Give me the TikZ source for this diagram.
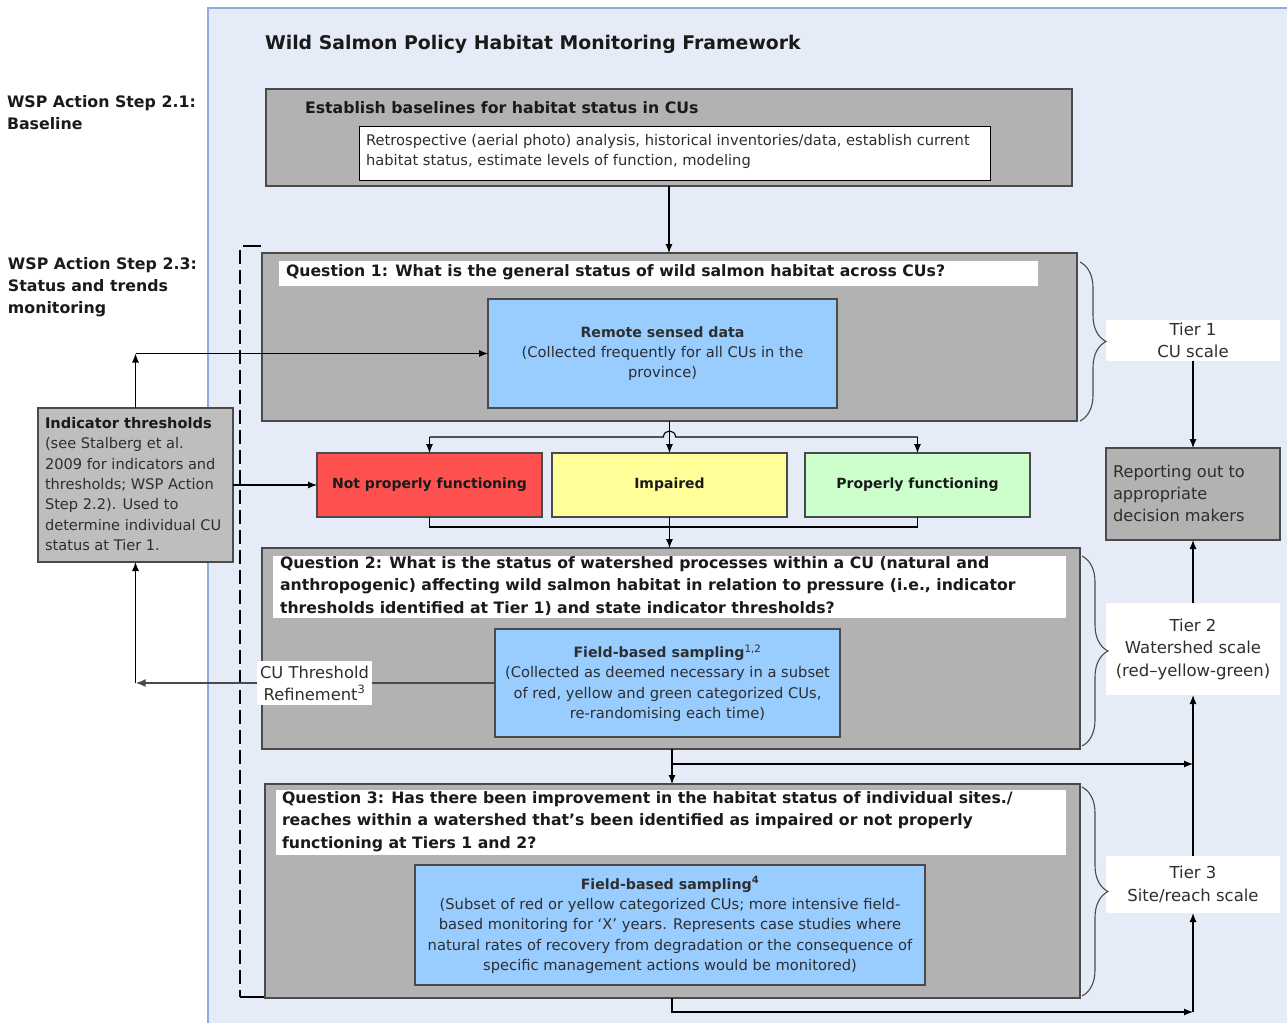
\documentclass[tikz,border=0pt]{standalone}
\usepackage{fontspec}
\setmainfont{DejaVu Sans}
\usetikzlibrary{arrows.meta,decorations.pathreplacing}
\definecolor{panelbg}{HTML}{E6ECF7}
\definecolor{panelln}{HTML}{8FAADC}
\definecolor{graybg}{HTML}{B2B2B2}
\definecolor{indbg}{HTML}{BEBEBE}
\definecolor{edge}{HTML}{4A4A4A}
\definecolor{bluebg}{HTML}{99CCFF}
\definecolor{redbg}{HTML}{FF5050}
\definecolor{yelbg}{HTML}{FFFF99}
\definecolor{grnbg}{HTML}{CCFFCC}
\definecolor{txt}{HTML}{1A1A1A}
\definecolor{soft}{HTML}{2E2E2E}
\newcommand\fsz[2]{\fontsize{#1}{#2}\selectfont}
\newcommand\bhd[1]{{\bfseries\fsz{14.2}{20.3}#1}}
\begin{document}
\begin{tikzpicture}[x=1pt,y=-1pt,
  box/.style={rectangle, inner sep=0pt, outer sep=0pt},
  graybox/.style={box, fill=graybg, draw=edge, line width=1.5pt},
  whitebox/.style={box, fill=white},
  bluebox/.style={box, fill=bluebg, draw=edge, line width=1.2pt, align=center, text=soft, font=\fsz{14.7}{20.3}},
  colbox/.style={box, draw=edge, line width=1.2pt, text=txt, font=\bfseries\fsz{14}{18}},
  lbl/.style={inner sep=0pt, outer sep=0pt, text=txt, align=left},
  qtext/.style={lbl, anchor=west, font=\bfseries\fsz{15.7}{22.3}},
  conn/.style={draw=black, line width=1.1pt},
  arr/.style={conn, -{Latex[length=9pt,width=7pt]}},
  brc/.style={draw=edge, line width=1.1pt, decorate, decoration={brace, amplitude=26pt}}
]
\useasboundingbox (0,0) rectangle (1287,1023);
\fill[white] (0,0) rectangle (1287,1023);
\fill[panelbg] (208,8) rectangle (1287,1023);
\draw[panelln, line width=1.5pt] (208,1023) -- (208,8) -- (1287,8);

% title and side labels
\node[lbl, anchor=west, font=\bfseries\fsz{18.85}{24}] (title) at (265,44) {Wild Salmon Policy Habitat Monitoring Framework};
\node[lbl, anchor=west, font=\bfseries\fsz{15.8}{22}] (step21) at (7,113) {WSP Action Step 2.1:\\Baseline};
\node[lbl, anchor=west, font=\bfseries\fsz{15.8}{22}] (step23) at (8,287) {WSP Action Step 2.3:\\Status and trends\\monitoring};

% baseline box
\node[graybox, minimum width=806, minimum height=97] (base) at (669,137.5) {};
\node[qtext, font=\bfseries\fsz{15.75}{20}] (basehdr) at (305,108) {Establish baselines for habitat status in CUs};
\node[whitebox, draw=black, line width=1pt, minimum width=631, minimum height=54] (basebody) at (674.5,153) {};
\node[lbl, anchor=west, text=soft, font=\fsz{14.7}{20}] (basetxt) at (366,151.5) {Retrospective (aerial photo) analysis, historical inventories/data, establish current\\habitat status, estimate levels of function, modeling};

% dashed bracket
\draw[black, line width=1.8pt, dash pattern=on 14pt off 6pt] (240,250) -- (240,997);
\draw[black, line width=1.8pt] (243,246) -- (261,246);
\draw[black, line width=1.8pt] (240,997) -- (265,997);

% Question 1
\node[graybox, minimum width=815, minimum height=168] (q1) at (669.5,337) {};
\node[whitebox, minimum width=759, minimum height=25] (q1h) at (658.5,273.5) {};
\node[qtext] (q1t) at (286,272.5) {Question 1: What is the general status of wild salmon habitat across CUs?};
\node[bluebox, minimum width=349, minimum height=109] (remote) at (662.5,353.5) {\bhd{Remote sensed data}\\(Collected frequently for all CUs in the\\province)};

% indicator thresholds
\node[box, fill=indbg, draw=edge, line width=1.5pt, minimum width=195, minimum height=154] (ind) at (135.5,485) {};
\node[lbl, anchor=west, text=soft, font=\fsz{14.6}{20.3}] (indt) at (45,484) {\textcolor{txt}{\textbf{Indicator thresholds}}\\(see Stalberg et al.\\2009 for indicators and\\thresholds; WSP Action\\Step 2.2). Used to\\determine individual CU\\status at Tier 1.};

% colour boxes
\node[colbox, fill=redbg, minimum width=225, minimum height=64] (red) at (429.5,485) {Not properly functioning};
\node[colbox, fill=yelbg, minimum width=235, minimum height=64] (yellow) at (669.5,485) {Impaired};
\node[colbox, fill=grnbg, minimum width=225, minimum height=64] (green) at (917.5,485) {Properly functioning};

% Question 2
\node[graybox, minimum width=818, minimum height=201] (q2) at (671,648.5) {};
\node[whitebox, minimum width=793, minimum height=62] (q2h) at (669.5,587) {};
\node[qtext] (q2t) at (280,586) {Question 2: What is the status of watershed processes within a CU (natural and\\anthropogenic) affecting wild salmon habitat in relation to pressure (i.e., indicator\\thresholds identified at Tier 1) and state indicator thresholds?};
\node[bluebox, minimum width=345, minimum height=108] (field1) at (667.5,683) {\bhd{Field-based sampling}\textsuperscript{1,2}\\(Collected as deemed necessary in a subset\\of red, yellow and green categorized CUs,\\re-randomising each time)};

% Question 3
\node[graybox, minimum width=815, minimum height=214] (q3) at (672.5,891) {};
\node[whitebox, minimum width=790, minimum height=65] (q3h) at (671,822.5) {};
\node[qtext] (q3t) at (282,821.5) {Question 3: Has there been improvement in the habitat status of individual sites./\\reaches within a watershed that’s been identified as impaired or not properly\\functioning at Tiers 1 and 2?};
\node[bluebox, minimum width=510, minimum height=120] (field2) at (670,925) {\bhd{Field-based sampling\textsuperscript{4}}\\(Subset of red or yellow categorized CUs; more intensive field-\\based monitoring for ‘X’ years. Represents case studies where\\natural rates of recovery from degradation or the consequence of\\specific management actions would be monitored)};

% right column
\node[whitebox, minimum width=174, minimum height=41, align=center, text=soft, font=\fsz{16.5}{22.5}] (tier1) at (1193,340.5) {Tier 1\\CU scale};
\node[box, fill=graybg, draw=edge, line width=1.5pt, minimum width=174, minimum height=92] (report) at (1193,494) {};
\node[lbl, anchor=west, text=soft, font=\fsz{16.2}{22}] (reportt) at (1113,493) {Reporting out to\\appropriate\\decision makers};
\node[whitebox, minimum width=174, minimum height=92, align=center, text=soft, font=\fsz{16.5}{22.5}] (tier2) at (1193,649) {Tier 2\\Watershed scale\\(red–yellow-green)};
\node[whitebox, minimum width=174, minimum height=57, align=center, text=soft, font=\fsz{16.5}{22.5}] (tier3) at (1193,884.5) {Tier 3\\Site/reach scale};

% braces
\draw[brc] (1080,262) -- (1080,421);
\draw[brc] (1082,556) -- (1082,746);
\draw[brc] (1082,787) -- (1082,996);

% connectors
\draw[arr] (base.south) -- (base.south |- q1.north);
\draw[arr] (q1.south -| yellow.north) -- (yellow.north);
\coordinate (jl) at (429.5,437);
\coordinate (jr) at (917.5,437);
\draw[conn] (jl) -- (663.5,437) .. controls (663.5,429) and (675.5,429) .. (675.5,437) -- (jr);
\draw[arr] (jl) -- (red.north);
\draw[arr] (jr) -- (green.north);
\draw[conn] (red.south) -- ++(0,10) -| (green.south);
\draw[arr] (yellow.south) -- (yellow.south |- q2.north);

\coordinate (iu) at (135.5,353.5);
\draw[arr] (ind.north) -- (iu);
\draw[arr] (iu) -- (remote.west);
\draw[arr] (ind.east |- red.west) -- (red.west);

\coordinate (fl) at (135.5,683);
\draw[draw=edge, line width=1.8pt, -{Latex[length=10pt,width=8pt]}] (field1.west) -- (fl);
\draw[arr] (fl) -- (ind.south);
\node[whitebox, minimum width=115, minimum height=44, align=center, text=soft, font=\fsz{16.3}{22}] (cut) at (314.5,683) {CU Threshold\\Refinement\textsuperscript{3}};

\coordinate (q2q3) at (672,764);
\draw[arr] (q2.south -| q2q3) -- (q2q3 |- q3.north);
\draw[arr] (q2q3) -- (q2q3 -| tier2.south);
\draw[arr] (tier3.north) -- (tier2.south);
\draw[arr] (tier2.north) -- (report.south);
\draw[arr] (tier1.south) -- (report.north);

\coordinate (q3b) at (672,1012);
\coordinate (t3b) at (1193,1012);
\draw[arr] (q3.south -| q3b) -- (q3b) -- (t3b);
\draw[arr] (t3b) -- (tier3.south);
\end{tikzpicture}
\end{document}
